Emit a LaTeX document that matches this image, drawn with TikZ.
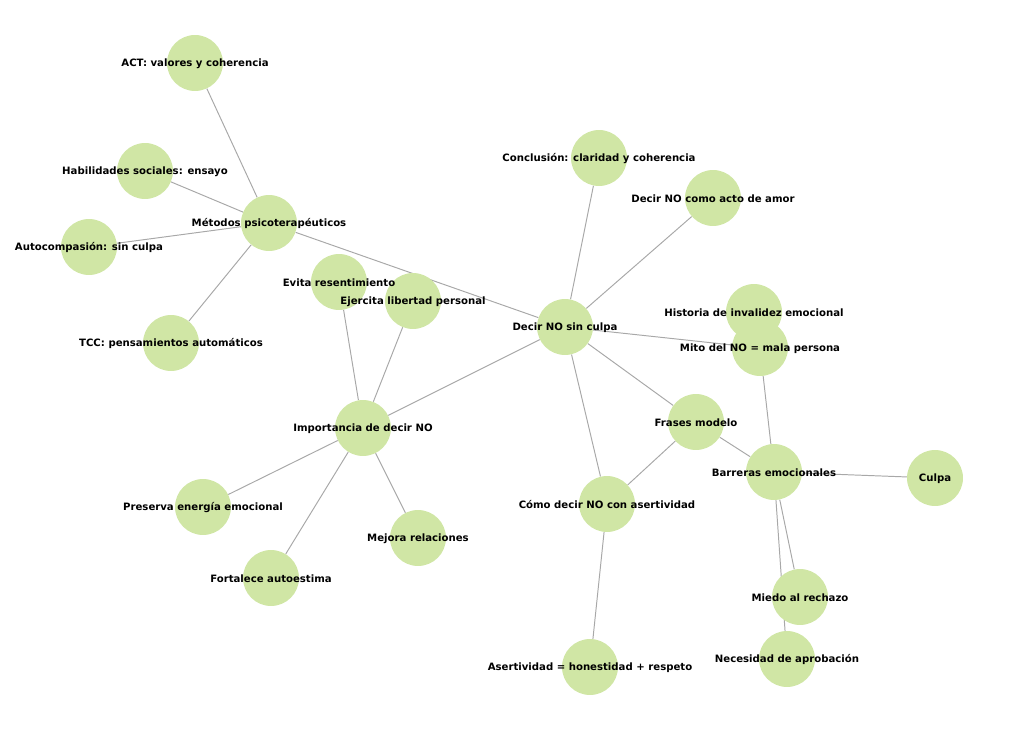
\documentclass[tikz,border=0pt]{standalone}
\usepackage{fontspec}
\setmainfont{DejaVu Sans}
\usetikzlibrary{backgrounds}
\definecolor{nodegreen}{RGB}{208,230,165}
\definecolor{edgegray}{RGB}{168,168,168}
\tikzset{
  topic/.style={circle,fill=nodegreen,minimum size=40.3pt,inner sep=0pt},
  tag/.style={font=\bfseries\fontsize{7.3pt}{8pt}\selectfont,inner sep=0pt,yshift=-0.7pt},
  link/.style={draw=edgegray,line width=0.7pt}
}

\begin{document}
\begin{tikzpicture}[x=0.72pt,y=-0.72pt]
			\useasboundingbox (0,0) rectangle (1024,731);
			% circles
			\node[topic] (act) at (195,63) {};
			\node[topic] (hab) at (145,171) {};
			\node[topic] (met) at (269,223) {};
			\node[topic] (auto) at (89,247) {};
			\node[topic] (tcc) at (171,343) {};
			\node[topic] (evita) at (339,282) {};
			\node[topic] (ejer) at (413,301) {};
			\node[topic] (imp) at (363,428) {};
			\node[topic] (pres) at (203,507) {};
			\node[topic] (fort) at (271,578) {};
			\node[topic] (mej) at (418,538) {};
			\node[topic] (sin) at (565,327) {};
			\node[topic] (conc) at (599,158) {};
			\node[topic] (amor) at (713,198) {};
			\node[topic] (hist) at (754,312) {};
			\node[topic] (mito) at (760,348) {};
			\node[topic] (fra) at (696,422) {};
			\node[topic] (barr) at (774,472) {};
			\node[topic] (culpa) at (935,478) {};
			\node[topic] (como) at (607,504) {};
			\node[topic] (aser) at (590,667) {};
			\node[topic] (miedo) at (800,597) {};
			\node[topic] (nec) at (787,659) {};
			% edges
			\begin{scope}[on background layer]
				\draw[link] (met) -- (act);
				\draw[link] (met) -- (hab);
				\draw[link] (met) -- (auto);
				\draw[link] (met) -- (tcc);
				\draw[link] (met) -- (sin);
				\draw[link] (imp) -- (evita);
				\draw[link] (imp) -- (ejer);
				\draw[link] (imp) -- (sin);
				\draw[link] (imp) -- (pres);
				\draw[link] (imp) -- (fort);
				\draw[link] (imp) -- (mej);
				\draw[link] (sin) -- (conc);
				\draw[link] (sin) -- (amor);
				\draw[link] (sin) -- (mito);
				\draw[link] (sin) -- (fra);
				\draw[link] (sin) -- (como);
				\draw[link] (fra) -- (como);
				\draw[link] (fra) -- (barr);
				\draw[link] (barr) -- (mito);
				\draw[link] (barr) -- (culpa);
				\draw[link] (barr) -- (miedo);
				\draw[link] (barr) -- (nec);
				\draw[link] (como) -- (aser);
			\end{scope}
			% labels
			\node[tag] at (act) {ACT: valores y coherencia};
			\node[tag] at (hab) {Habilidades sociales: ensayo};
			\node[tag] at (met) {Métodos psicoterapéuticos};
			\node[tag] at (auto) {Autocompasión: sin culpa};
			\node[tag] at (tcc) {TCC: pensamientos automáticos};
			\node[tag] at (evita) {Evita resentimiento};
			\node[tag] at (ejer) {Ejercita libertad personal};
			\node[tag] at (imp) {Importancia de decir NO};
			\node[tag] at (pres) {Preserva energía emocional};
			\node[tag] at (fort) {Fortalece autoestima};
			\node[tag] at (mej) {Mejora relaciones};
			\node[tag] at (sin) {Decir NO sin culpa};
			\node[tag] at (conc) {Conclusión: claridad y coherencia};
			\node[tag] at (amor) {Decir NO como acto de amor};
			\node[tag] at (hist) {Historia de invalidez emocional};
			\node[tag] at (mito) {Mito del NO = mala persona};
			\node[tag] at (fra) {Frases modelo};
			\node[tag] at (barr) {Barreras emocionales};
			\node[tag] at (culpa) {Culpa};
			\node[tag] at (como) {Cómo decir NO con asertividad};
			\node[tag] at (aser) {Asertividad = honestidad + respeto};
			\node[tag] at (miedo) {Miedo al rechazo};
			\node[tag] at (nec) {Necesidad de aprobación};
		\end{tikzpicture}
\end{document}
